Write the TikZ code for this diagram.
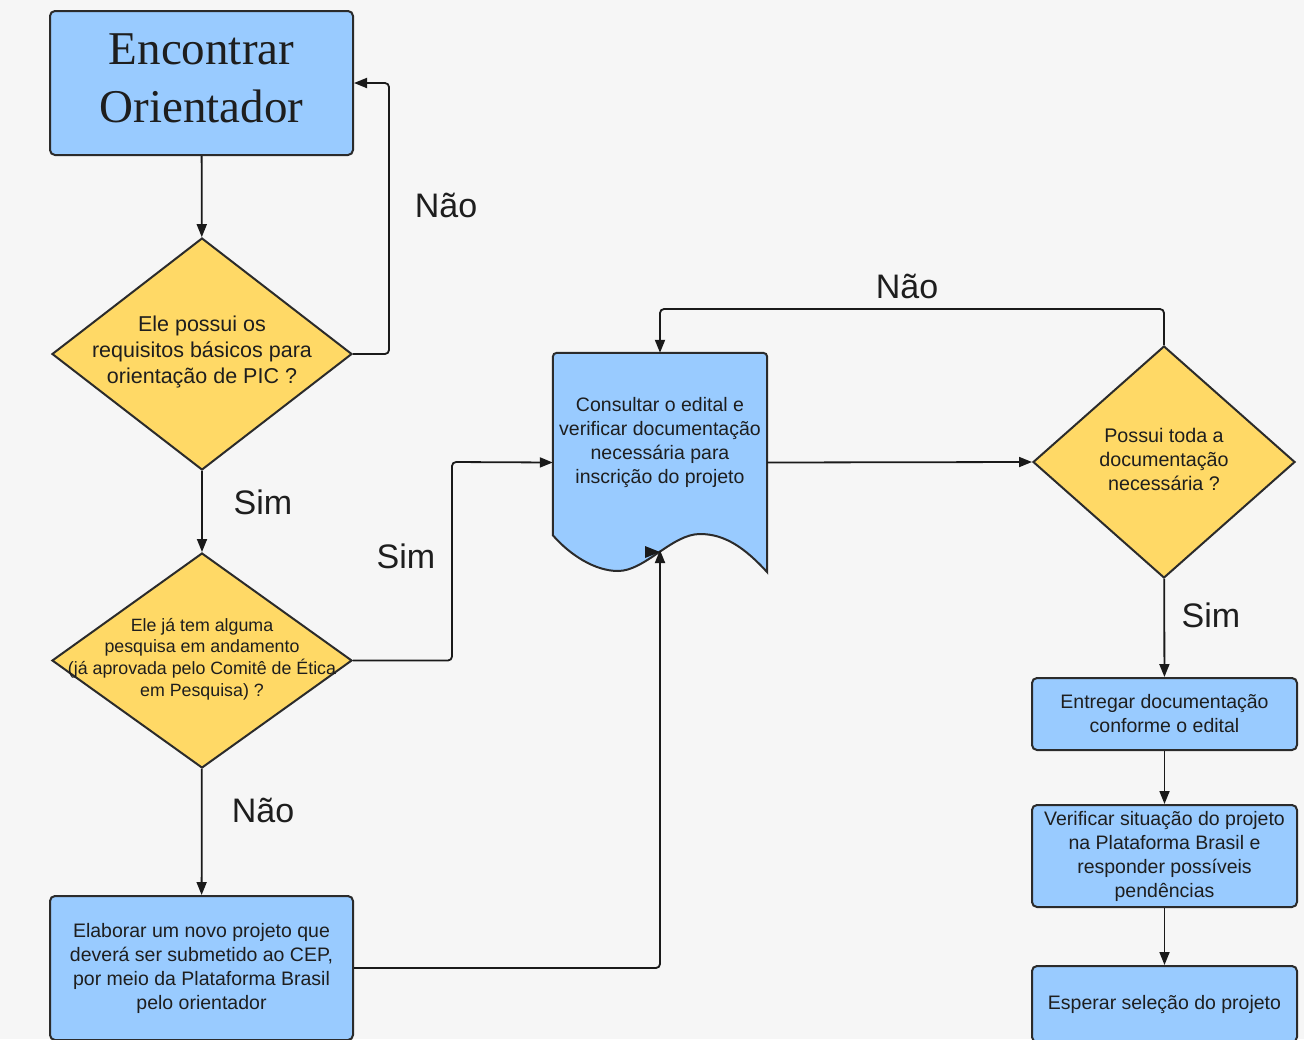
\documentclass[tikz,border=0pt]{standalone}
\usepackage{fontspec}
\setmainfont{Liberation Sans}
\newfontfamily\titlefont{Liberation Serif}
\usetikzlibrary{shapes.geometric,arrows.meta}
\definecolor{bgcol}{HTML}{F6F6F6}
\definecolor{boxblue}{HTML}{99CBFF}
\definecolor{decyellow}{HTML}{FFD966}
\definecolor{edgecol}{HTML}{2B2B2B}
\definecolor{linecol}{HTML}{1A1A1A}
\definecolor{txtcol}{HTML}{1E1E1E}
\begin{document}
\begin{tikzpicture}[x=1pt,y=-1pt,
  procbox/.style={draw=edgecol,line width=2pt,fill=boxblue,rounded corners=5pt,
    minimum width=265pt,text=txtcol,align=center,inner sep=0pt,
    font=\fontsize{19.5}{24}\selectfont},
  decision/.style={diamond,draw=edgecol,line width=2pt,fill=decyellow,inner sep=0pt},
  dectext/.style={text=txtcol,align=center,inner sep=0pt},
  answer/.style={font=\fontsize{34}{40}\selectfont,text=txtcol,inner sep=0pt},
  conn/.style={draw=linecol,line width=1.8pt,rounded corners=4pt,
    -{Triangle[length=13pt,width=10pt]}}]
\useasboundingbox[fill=bgcol] (0,0) rectangle (1304,1039);

\node[procbox,minimum width=303pt,minimum height=144pt] (find) at (201.5,83) {};
\node[dectext,font=\titlefont\fontsize{47}{58}\selectfont] (findtxt) at (201.5,78)
  {Encontrar\\Orientador};

\node[decision,minimum width=300pt,minimum height=232pt] (d1) at (202,354) {};
\node[dectext,font=\fontsize{21.5}{26}\selectfont] (d1txt) at (202,352)
  {Ele possui os\\requisitos básicos para\\orientação de PIC ?};

\node[decision,minimum width=300pt,minimum height=215pt] (d2) at (202,660.5) {};
\node[dectext,font=\fontsize{17.8}{21.7}\selectfont] (d2txt) at (202,659)
  {Ele já tem alguma\\pesquisa em andamento\\(já aprovada pelo Comitê de Ética\\em Pesquisa) ?};

\node[procbox,minimum width=303pt,minimum height=144pt] (newproj) at (201.5,968)
  {Elaborar um novo projeto que\\deverá ser submetido ao CEP,\\por meio da Plataforma Brasil\\pelo orientador};

\node[minimum width=214pt,minimum height=219pt,inner sep=0pt] (doc) at (660,462.5) {};
\draw[edgecol,line width=2pt,fill=boxblue,rounded corners=4pt]
  ([yshift=37pt]doc.south west) -- (doc.north west) -- (doc.north east)
  [sharp corners] -- (doc.south east)
  .. controls (745,548) and (725,534) .. (700,534)
  .. controls (672,534) and (645,571) .. (618,571)
  .. controls (595,571) and (570,555) .. ([yshift=37pt]doc.south west) -- cycle;
\node[dectext,font=\fontsize{19.5}{24}\selectfont] (doctxt) at (660,442)
  {Consultar o edital e\\verificar documentação\\necessária para\\inscrição do projeto};
\coordinate (wave) at (660,550);

\node[decision,minimum width=262pt,minimum height=232pt] (d3) at (1164,462) {};
\node[dectext,font=\fontsize{19.7}{24}\selectfont] (d3txt) at (1164,459)
  {Possui toda a\\documentação\\necessária ?};

\node[procbox,minimum height=72pt] (deliver) at (1164.5,714)
  {Entregar documentação\\conforme o edital};
\node[procbox,minimum height=102pt] (check) at (1164.5,856)
  {Verificar situação do projeto\\na Plataforma Brasil e\\responder possíveis\\pendências};
\node[procbox,minimum height=76pt] (wait) at (1164.5,1004)
  {Esperar seleção do projeto};

\coordinate (k1) at (389,83);
\coordinate (k2) at (452,462);
\coordinate (k3) at (660,309);

\draw[conn] (find) -- (d1);
\draw[conn] (d1.east) -| (k1) -- (find.east);
\draw[conn] (d1) -- (d2);
\draw[conn] (d2.east) -| (k2) -- (doc.west);
\draw[conn] (d2) -- (newproj);
\draw[conn] (newproj.east) -| (wave);
\fill[linecol] (645,546) -- (660,552) -- (645,558) -- cycle;
\draw[conn] (doc.east) -- (d3.west);
\draw[conn] (d3.north) |- (k3) -- (doc.north);
\draw[conn] (d3) -- (deliver);
\draw[conn] (deliver) -- (check);
\draw[conn] (check) -- (wait);

\node[answer] (nao1) at (446,205) {Não};
\node[answer] (sim1) at (263,502) {Sim};
\node[answer] (sim2) at (406,556) {Sim};
\node[answer] (nao2) at (263,810) {Não};
\node[answer] (nao3) at (907,286) {Não};
\node[answer] (sim3) at (1211,615) {Sim};
\end{tikzpicture}
\end{document}
